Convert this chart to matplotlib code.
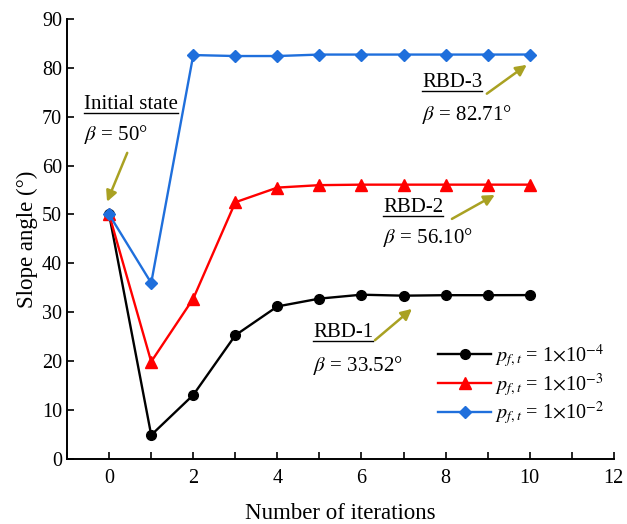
import numpy as np
import matplotlib
matplotlib.use("Agg")
import matplotlib.pyplot as plt

plt.rcParams['font.family'] = ['Liberation Serif', 'DejaVu Serif']
plt.rcParams['mathtext.fontset'] = 'stix'

iters = [0, 1, 2, 3, 4, 5, 6, 7, 8, 9, 10]
pf_1e4 = [50, 4.9, 13.1, 25.3, 31.2, 32.8, 33.6, 33.4, 33.5, 33.5, 33.52]
pf_1e3 = [50, 19.9, 32.8, 52.5, 55.5, 56.0, 56.1, 56.1, 56.1, 56.1, 56.1]
pf_1e2 = [50, 36.0, 82.6, 82.4, 82.4, 82.7, 82.7, 82.7, 82.7, 82.7, 82.71]
labels = [r'$p_{f,t}$ = 1$\times$10$^{-4}$',
          r'$p_{f,t}$ = 1$\times$10$^{-3}$',
          r'$p_{f,t}$ = 1$\times$10$^{-2}$']

olive = '#a9a122'

fig = plt.figure(figsize=(6.27, 5.24), dpi=100)
ax = fig.add_axes([0.107, 0.124, 0.872, 0.840])

ax.plot(iters, pf_1e4, '-o', color='black', lw=1.7, ms=7, label=labels[0])
ax.plot(iters, pf_1e3, '-^', color='#ff0000', lw=1.7, ms=8, label=labels[1])
ax.plot(iters, pf_1e2, '-D', color='#1f6fdc', lw=1.7, ms=6.5, label=labels[2])

ax.set_xlim(-1, 12)
ax.set_ylim(0, 90)
ax.set_xticks([0, 2, 4, 6, 8, 10, 12])
ax.set_xticks(np.arange(-1, 12, 1), minor=True)
ax.set_yticks(np.arange(0, 91, 10))
ax.tick_params(direction='in', length=5, width=1.2, labelsize=14.5)
ax.tick_params(which='minor', direction='in', length=5, width=1.2)
ax.tick_params(axis='x', pad=7)
for s in ['top', 'right']:
    ax.spines[s].set_visible(False)
for s in ['left', 'bottom']:
    ax.spines[s].set_linewidth(1.4)

ax.set_xlabel('Number of iterations', fontsize=16.5, labelpad=11)
ax.set_ylabel('Slope angle (°)', fontsize=16.5, labelpad=3)

leg = ax.legend(loc='lower right', bbox_to_anchor=(1.015, 0.031), frameon=False,
                fontsize=14.5, handlelength=2.6, handletextpad=0.2, labelspacing=0.03,
                borderaxespad=0.5)

notes = [
    ('Initial state', r'$\beta$ = 50°', -0.59, 72.4, 66.3, (0.43, 62.6), (-0.05, 52.6)),
    ('RBD-3', r'$\beta$ = 82.71°', 7.44, 76.9, 70.4, (8.98, 74.7), (9.93, 80.6)),
    ('RBD-2', r'$\beta$ = 56.10°', 6.51, 51.5, 45.2, (8.15, 49.1), (9.17, 54.0)),
    ('RBD-1', r'$\beta$ = 33.52°', 4.85, 25.8, 19.2, (6.32, 24.3), (7.20, 30.7)),
]
titles = []
for name, beta, x, y1, y2, tail, head in notes:
    t = ax.text(x, y1, name, fontsize=15, va='center', ha='left')
    ax.text(x, y2, beta, fontsize=15, va='center', ha='left')
    ax.annotate('', xy=head, xytext=tail,
                arrowprops=dict(arrowstyle='-|>', color=olive, lw=1.8,
                                mutation_scale=16, shrinkA=0, shrinkB=0))
    titles.append(t)

# underline the note titles
fig.canvas.draw()
inv = ax.transData.inverted()
for t in titles:
    bb = t.get_window_extent()
    (x0, y0), (x1, _) = inv.transform([[bb.x0, bb.y0 + 1], [bb.x1, bb.y0]])
    ax.plot([x0, x1], [y0, y0], color='black', lw=1.0, clip_on=False)

fig.savefig('out.png', dpi=100)
